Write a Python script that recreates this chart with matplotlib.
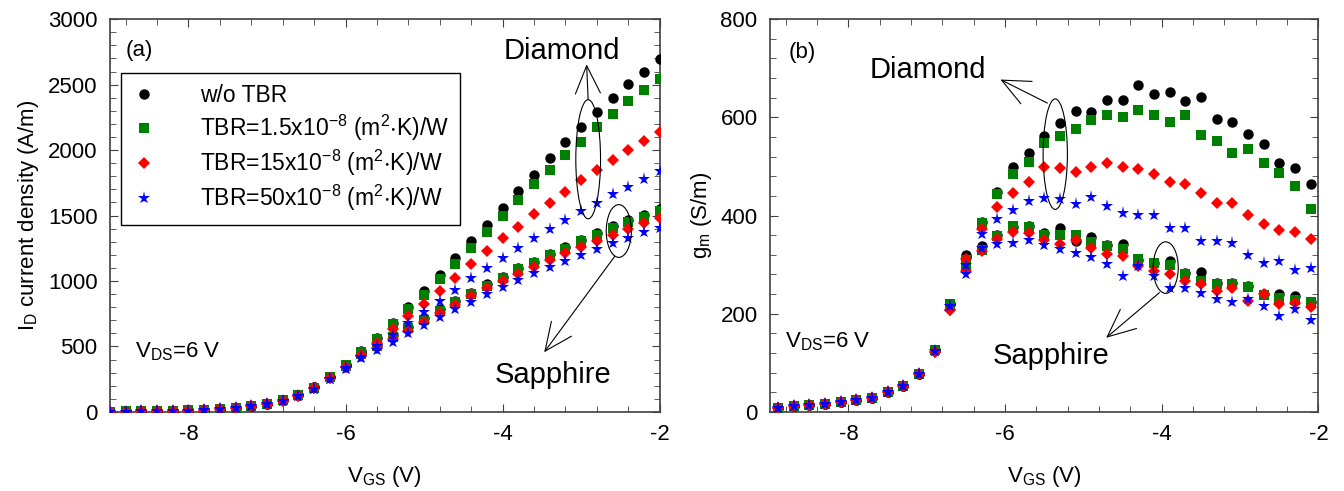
import matplotlib
matplotlib.use('Agg')
import matplotlib.pyplot as plt
from matplotlib.patches import Ellipse
from matplotlib.ticker import MultipleLocator

plt.rcParams['font.family'] = ['Liberation Sans', 'DejaVu Sans']
plt.rcParams['mathtext.fontset'] = 'custom'
plt.rcParams['mathtext.rm'] = 'Liberation Sans'
plt.rcParams['mathtext.it'] = 'Liberation Sans:italic'
plt.rcParams['mathtext.bf'] = 'Liberation Sans:bold'
plt.rcParams['axes.unicode_minus'] = False

# (a) drain current density vs VGS
vgs_id = [-9.0, -8.8, -8.6, -8.4, -8.2, -8.0, -7.8, -7.6, -7.4, -7.2, -7.0, -6.8,
          -6.6, -6.4, -6.2, -6.0, -5.8, -5.6, -5.4, -5.2, -5.0, -4.8, -4.6, -4.4,
          -4.2, -4.0, -3.8, -3.6, -3.4, -3.2, -3.0, -2.8, -2.6, -2.4, -2.2, -2.0]

id_dia_notbr = [3, 4, 5, 7, 9, 12, 17, 24, 33, 45, 62, 88, 128, 188, 268, 360, 464, 566,
                681, 800, 923, 1045, 1175, 1303, 1430, 1557, 1685, 1812, 1942, 2060, 2179,
                2292, 2399, 2503, 2600, 2692]
id_dia_15 = [3, 4, 5, 7, 9, 12, 17, 24, 33, 45, 62, 88, 127, 186, 265, 355, 459, 558,
             668, 783, 897, 1012, 1132, 1254, 1376, 1494, 1616, 1738, 1845, 1960, 2065,
             2174, 2274, 2373, 2460, 2546]
id_dia_150 = [2, 3, 4, 6, 8, 11, 16, 23, 31, 43, 60, 85, 124, 180, 258, 345, 438, 528,
              630, 732, 826, 923, 1025, 1127, 1229, 1325, 1412, 1509, 1598, 1682, 1769,
              1845, 1922, 1998, 2070, 2141]
id_dia_500 = [2, 3, 4, 6, 8, 11, 16, 22, 30, 42, 58, 83, 120, 176, 250, 335, 418, 502,
              591, 681, 762, 851, 935, 1020, 1101, 1178, 1254, 1325, 1394, 1466, 1535,
              1598, 1662, 1721, 1782, 1840]

id_sap_notbr = [3, 4, 5, 7, 9, 12, 17, 24, 33, 45, 62, 88, 128, 188, 268, 355, 450, 515,
                585, 652, 720, 784, 850, 911, 975, 1033, 1097, 1148, 1204, 1257, 1313,
                1364, 1420, 1466, 1504, 1547]
id_sap_15 = [3, 4, 5, 7, 9, 12, 17, 24, 33, 45, 62, 88, 127, 186, 265, 352, 440, 500,
             570, 640, 705, 772, 838, 902, 963, 1025, 1088, 1140, 1195, 1245, 1302,
             1352, 1405, 1452, 1492, 1532]
id_sap_150 = [2, 3, 4, 6, 8, 11, 16, 23, 31, 43, 60, 85, 124, 180, 258, 342, 428, 488,
              555, 620, 690, 758, 817, 886, 944, 1000, 1053, 1104, 1160, 1211, 1262,
              1308, 1351, 1394, 1445, 1478]
id_sap_500 = [2, 3, 4, 6, 8, 11, 16, 22, 30, 42, 58, 83, 120, 176, 250, 330, 410, 470,
              535, 600, 665, 728, 784, 842, 901, 957, 1008, 1059, 1104, 1153, 1198,
              1244, 1288, 1326, 1377, 1402]

# (b) transconductance vs VGS
vgs_gm = [-8.9, -8.7, -8.5, -8.3, -8.1, -7.9, -7.7, -7.5, -7.3, -7.1, -6.9, -6.7,
          -6.5, -6.3, -6.1, -5.9, -5.7, -5.5, -5.3, -5.1, -4.9, -4.7, -4.5, -4.3,
          -4.1, -3.9, -3.7, -3.5, -3.3, -3.1, -2.9, -2.7, -2.5, -2.3, -2.1]

gm_dia_notbr = [9, 12, 14, 16, 20, 24, 29, 41, 52, 77, 127, 219, 319, 386, 447, 498, 527,
                561, 588, 612, 611, 635, 636, 666, 647, 652, 633, 641, 596, 590, 566,
                546, 507, 497, 465]
gm_dia_15 = [9, 12, 14, 16, 20, 24, 29, 41, 52, 77, 127, 219, 310, 385, 443, 485, 510,
             548, 563, 576, 595, 605, 601, 614, 604, 591, 604, 565, 551, 527, 536,
             508, 487, 460, 414]
gm_dia_150 = [9, 12, 14, 16, 20, 24, 29, 41, 52, 77, 122, 207, 312, 373, 418, 446, 468,
              498, 496, 488, 499, 507, 498, 494, 485, 468, 464, 446, 426, 426, 401,
              382, 370, 366, 353]
gm_dia_500 = [9, 12, 14, 16, 20, 24, 29, 41, 52, 77, 125, 215, 300, 363, 392, 411, 429,
              436, 433, 424, 437, 419, 405, 401, 401, 374, 374, 349, 349, 344, 319,
              304, 308, 290, 294]

gm_sap_notbr = [9, 12, 14, 16, 20, 24, 29, 41, 52, 77, 127, 219, 315, 338, 360, 376, 378,
                365, 375, 348, 356, 341, 342, 310, 304, 307, 282, 286, 263, 263, 256,
                241, 241, 236, 224]
gm_sap_15 = [9, 12, 14, 16, 20, 24, 29, 41, 52, 77, 127, 219, 300, 329, 358, 378, 377,
             361, 360, 360, 346, 338, 331, 311, 304, 300, 281, 266, 261, 260, 255,
             239, 233, 229, 224]
gm_sap_150 = [9, 12, 14, 16, 20, 24, 29, 41, 52, 77, 122, 207, 288, 327, 353, 366, 365,
              351, 343, 350, 333, 321, 317, 298, 288, 281, 266, 261, 246, 252, 226,
              241, 219, 222, 214]
gm_sap_500 = [9, 12, 14, 16, 20, 24, 29, 41, 52, 77, 125, 215, 280, 334, 343, 344, 351,
              341, 331, 324, 316, 302, 277, 297, 277, 252, 253, 243, 231, 224, 231,
              216, 195, 210, 188]

labels = ['w/o TBR',
          r'TBR=1.5x10$^{\mathregular{-8}}$ (m$^{\mathregular{2}}$$\mathregular{\cdot}$K)/W',
          r'TBR=15x10$^{\mathregular{-8}}$ (m$^{\mathregular{2}}$$\mathregular{\cdot}$K)/W',
          r'TBR=50x10$^{\mathregular{-8}}$ (m$^{\mathregular{2}}$$\mathregular{\cdot}$K)/W']
colors = ['black', '#008000', '#ff0000', '#0000ff']
markers = ['o', 's', 'D', '*']
msizes = [7.5, 7, 6.5, 9.5]

fig = plt.figure(figsize=(13.44, 4.91), dpi=100)
ax1 = fig.add_axes([0.0818, 0.161, 0.409, 0.800])
ax2 = fig.add_axes([0.573, 0.161, 0.408, 0.800])

dia_id = [id_dia_notbr, id_dia_15, id_dia_150, id_dia_500]
sap_id = [id_sap_notbr, id_sap_15, id_sap_150, id_sap_500]
dia_gm = [gm_dia_notbr, gm_dia_15, gm_dia_150, gm_dia_500]
sap_gm = [gm_sap_notbr, gm_sap_15, gm_sap_150, gm_sap_500]

handles = []
for i in range(4):
    h, = ax1.plot(vgs_id, dia_id[i], ls='none', marker=markers[i], color=colors[i],
                  ms=msizes[i], mew=0, label=labels[i], zorder=3 + i)
    ax1.plot(vgs_id, sap_id[i], ls='none', marker=markers[i], color=colors[i],
             ms=msizes[i], mew=0, zorder=3 + i)
    ax2.plot(vgs_gm, dia_gm[i], ls='none', marker=markers[i], color=colors[i],
             ms=msizes[i], mew=0, zorder=3 + i)
    ax2.plot(vgs_gm, sap_gm[i], ls='none', marker=markers[i], color=colors[i],
             ms=msizes[i], mew=0, zorder=3 + i)
    handles.append(h)

for ax in (ax1, ax2):
    ax.set_xlim(-9, -2)
    ax.xaxis.set_major_locator(MultipleLocator(2))
    ax.xaxis.set_minor_locator(MultipleLocator(0.4))
    ax.tick_params(which='both', direction='in', top=True, right=True,
                   labelsize=16, color='#404040')
    ax.tick_params(which='major', length=6, pad=9)
    ax.tick_params(which='minor', length=4)
    for s in ax.spines.values():
        s.set_color('#404040')
        s.set_linewidth(1.2)
    ax.set_xlabel(r'V$_{\mathregular{GS}}$ (V)', fontsize=16, labelpad=13)

ax1.set_ylim(0, 3000)
ax1.yaxis.set_major_locator(MultipleLocator(500))
ax1.yaxis.set_minor_locator(MultipleLocator(100))
ax1.set_ylabel(r'I$_{\mathregular{D}}$ current density (A/m)', fontsize=16, labelpad=5)

ax2.set_ylim(0, 800)
ax2.yaxis.set_major_locator(MultipleLocator(200))
ax2.yaxis.set_minor_locator(MultipleLocator(40))
ax2.set_ylabel(r'g$_{\mathregular{m}}$ (S/m)', fontsize=16, labelpad=5)

leg = ax1.legend(handles=handles, loc='upper left', bbox_to_anchor=(0.02, 0.863),
                 borderaxespad=0, fontsize=16.5, numpoints=1, handlelength=1.0,
                 handletextpad=1.95, labelspacing=0.22, borderpad=0.5,
                 fancybox=False, framealpha=1)
leg.get_frame().set_edgecolor('black')
leg.get_frame().set_linewidth(1.0)

# panel (a) annotations
ax1.text(-8.80, 2758, '(a)', fontsize=16, va='center', ha='left')
ax1.text(-8.68, 413, r'V$_{\mathregular{DS}}$=6 V', fontsize=16, va='baseline', ha='left')
ax1.text(-3.24, 2758, 'Diamond', fontsize=21, ha='center', va='center')
ax1.text(-3.36, 285, 'Sapphire', fontsize=21, ha='center', va='center')
ax1.add_patch(Ellipse((-2.91, 1930), 0.315, 910, fill=False, ec='black', lw=0.8, zorder=10))
ax1.add_patch(Ellipse((-2.52, 1382), 0.32, 403, fill=False, ec='black', lw=0.8, zorder=10))
arr = dict(arrowstyle='->, head_length=1.0, head_width=0.45', lw=0.8, color='black',
           mutation_scale=20, shrinkA=0, shrinkB=0)
ax1.annotate('', xy=(-2.93, 2655), xytext=(-2.91, 2385), arrowprops=arr)
ax1.annotate('', xy=(-3.47, 456), xytext=(-2.57, 1190), arrowprops=arr)

# panel (b) annotations
ax2.text(-8.77, 732, '(b)', fontsize=16, va='center', ha='left')
ax2.text(-8.81, 131, r'V$_{\mathregular{DS}}$=6 V', fontsize=16, va='baseline', ha='left')
ax2.text(-6.99, 697, 'Diamond', fontsize=21, ha='center', va='center')
ax2.text(-5.41, 114, 'Sapphire', fontsize=21, ha='center', va='center')
ax2.add_patch(Ellipse((-5.36, 525), 0.31, 225, fill=False, ec='black', lw=0.8, zorder=10))
ax2.add_patch(Ellipse((-3.95, 294), 0.32, 105, fill=False, ec='black', lw=0.8, zorder=10))
ax2.annotate('', xy=(-6.06, 677), xytext=(-5.46, 629), arrowprops=arr)
ax2.annotate('', xy=(-4.71, 151), xytext=(-4.03, 243), arrowprops=arr)

fig.savefig('out.png', dpi=100)
